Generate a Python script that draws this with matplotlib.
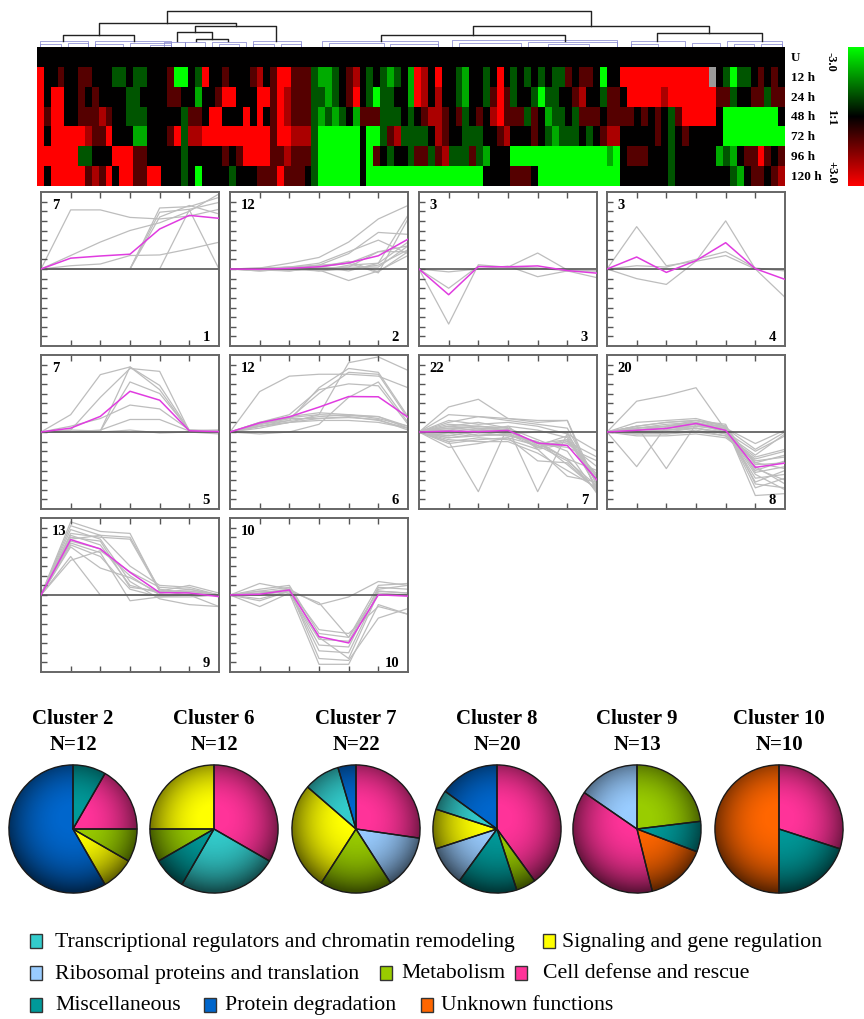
import numpy as np
import matplotlib
matplotlib.use("Agg")
import matplotlib.pyplot as plt
from matplotlib.colors import LinearSegmentedColormap
from matplotlib.patches import Circle, Rectangle

plt.rcParams['font.family'] = ['Liberation Serif', 'DejaVu Serif']

# ---------------- data ----------------
times = ["U", "12 h", "24 h", "48 h", "72 h", "96 h", "120 h"]

# heatmap, one string per time point after U (U is all 1:1)
# digit d -> log ratio d-3 (0 = -3.0 green, 3 = 1:1, 6 = +3.0 red), x = missing
heat_rows = [
    "6334334433" "3223223334" "0032633433" "3453466444" "2112345323"
    "2123165363" "3213323632" "3232322434" "4303366666" "66666666x3" "202234343",
    "6366334343" "3332233334" "4331334663" "3366465444" "2212346320"
    "2233165353" "3213324642" "3320223345" "3324436666" "6566666664" "423344244",
    "6466334445" "4332223333" "3244366333" "6363465444" "2121231444"
    "2223234554" "3423435644" "4243122324" "4434444343" "4324666663" "000000003",
    "6366666544" "6333113334" "6255666666" "6666466555" "2000000300"
    "2452222354" "3322233453" "3343212223" "2345533333" "4323433333" "000000000",
    "6666662233" "3666443333" "3233333434" "6666445444" "2000000304"
    "3233244245" "2224213330" "0000000000" "0001034443" "3323333331" "213446434",
    "6366666454" "6366446633" "3230333323" "3344464443" "2000000300"
    "0000000000" "0000033334" "4430000000" "0000033333" "3323333333" "321344345",
]

# dendrogram: (height, left, right); leaves are column positions
dendro_tree = (36, (24, (12, 3.3, 13.7), (21, (15, 19.9, (8, 22.7, 27.4)), 34.4)),
               (21, (12, 49.6, 76.5), (14, 89.8, 105.1)))
leaf_height = 6
# small blue sub-trees: (first col, last col, height)
blue_links = [(0, 7, 6), (0, 3, 3), (4, 7, 4), (8, 19, 6), (8, 12, 3), (13, 19, 4),
              (16, 19, 2), (18, 21, 5), (21, 24, 5), (25, 30, 5), (26, 29, 3),
              (31, 38, 6), (31, 34, 3), (35, 38, 3), (41, 58, 6), (42, 50, 4),
              (51, 58, 3), (60, 84, 7), (61, 70, 4), (71, 84, 5), (74, 80, 3),
              (86, 94, 6), (86, 90, 3), (95, 99, 4), (100, 108, 6), (101, 104, 3),
              (105, 108, 3)]

# expression profiles per cluster (log ratio vs U at 7 time points)
clu1 = [[0, 3.07, 3.07, 2.68, 2.60, 2.75, 3.10],
        [0, 0.70, 1.40, 2.00, 2.40, 3.00, 3.90],
        [0, 0.17, 0.26, 0.70, 0.73, 1.04, 1.39],
        [0, 0, 0, 0, 3.17, 3.24, 3.72],
        [0, 0, 0, 0, 0, 3.07, 0],
        [0, 0, 0, 0, 2.95, 3.10, 3.46],
        [0, 0, 0, 0, 2.70, 3.30, 2.86]]
clu2 = [[0, 0.05, 0.3, 0.6, 1.4, 2.6, 3.3],
        [0, 0, 0, 0.1, 0.3, -0.2, 2.6],
        [0, 0.05, 0.1, 0.2, 0.8, 1.9, 1.8],
        [0, -0.05, -0.1, 0.1, 0.4, -0.15, 0.9],
        [0, 0, 0.05, -0.05, -0.6, -0.1, 0.7],
        [0, 0, 0, -0.1, 0.2, 0.3, 2.8],
        [0, 0, -0.1, 0.05, 0.1, 0.9, 1.2],
        [0, -0.1, 0, 0.2, 0.3, 0.9, 0.9],
        [0, 0, 0.1, -0.1, 0, 0.2, 1.0],
        [0, -0.05, -0.05, 0, 0.1, 0.1, 1.2],
        [0, -0.1, 0, 0.1, -0.1, 0.3, 1.4],
        [0, 0, 0.1, 0.3, 0.9, 1.5, 0.8]]
clu3 = [[0, -2.86, 0.22, 0.09, 0.05, -0.1, -0.1],
        [0, -1.0, 0.15, 0.1, 0.83, -0.05, -0.1],
        [0, -0.15, 0, 0.15, -0.4, -0.1, -0.45]]
clu4 = [[0, 2.2, 0.17, 0.4, 2.5, 0, -1.47],
        [0, -0.5, -0.8, 0.4, 0.7, 0, -0.05],
        [0, 0.17, 0.1, 0.5, 0.9, 0.05, -0.1]]
clu5 = [[0, 0.9, 2.98, 3.38, 2.42, 0.09, 0.09],
        [0, 0.1, 1.8, 3.3, 3.15, 0.05, 0],
        [0, 0.1, 0.05, 3.38, 2.2, 0.05, 0],
        [0, 0, 0.05, 2.6, 2.0, 0.1, 0.05],
        [0, 0.3, 0.7, 1.4, 1.2, 0.1, 0],
        [0, 0, 0.1, 0.65, 0.65, 0.05, 0.1],
        [0, 0, 0, 0.1, -0.05, 0, -0.1]]
clu6 = [[0, 2.1, 2.9, 3.0, 3.0, 2.9, 2.3],
        [0, 0.4, 0.6, 2.3, 3.3, 3.1, 0.8],
        [0, 0.3, 0.5, 0.9, 3.6, 3.9, 3.2],
        [0, 0.4, 0.7, 2.0, 3.1, 3.0, 0.7],
        [0, 0.5, 0.8, 1.0, 0.9, 0.8, 0.2],
        [0, 0.3, 0.6, 0.8, 0.9, 0.7, 0.3],
        [0, 0.4, 0.7, 0.7, 0.8, 0.6, 0.2],
        [0, 0.2, 0.5, 0.7, 0.75, 0.65, 0.1],
        [0, 0.4, 0.75, 0.9, 0.85, 0.8, 0.3],
        [0, -0.1, 0, 0.4, 1.8, 2.6, 0.5],
        [0, 0.3, 0.5, 0.6, 0.6, 0.5, 0.2],
        [0, 0.5, 0.9, 2.2, 2.5, 2.4, 0.4]]
clu7 = [[0, 1.3, 1.7, 0.7, 0.5, 0.6, -3.2],
        [0, 0.9, 0.8, 0.7, 0.6, 0.6, -2.8],
        [0, 0.5, 0.8, 0.6, 0.4, 0.2, -2.6],
        [0, -0.5, -3.1, 0.3, 0.1, -0.3, -2.9],
        [0, 0.2, 0.3, 0.2, -3.1, -0.1, -2.4],
        [0, -0.8, -0.6, -0.3, -1.5, -1.6, -3.0],
        [0, -0.5, -0.3, -0.4, -0.9, -2.3, -2.6],
        [0, -0.3, -0.1, -0.2, -0.5, -1.7, -3.0],
        [0, 0.3, 0.2, 0.1, -0.6, -1.4, -2.0],
        [0, -0.2, 0.1, 0.0, -0.6, -0.8, -1.5],
        [0, 0.1, -0.2, -0.1, -0.8, -0.5, -1.3],
        [0, -0.4, -0.5, -0.5, -1.1, -2.0, -2.9],
        [0, 0.4, 0.3, 0.1, -0.8, -0.4, -2.3],
        [0, 0.6, 0.4, 0.5, 0.3, -0.1, -1.0],
        [0, -0.1, 0.1, -0.1, 0.0, 0.0, -3.0],
        [0, -0.6, -0.4, -0.3, -0.7, -1.5, -2.8],
        [0, 0.2, 0.1, 0.3, -0.9, -0.6, -1.8],
        [0, 0.1, 0.3, 0.2, -0.7, -0.2, -2.7],
        [0, -0.2, 0.0, -0.2, -0.5, -1.4, -3.1],
        [0, 0.0, 0.2, 0.1, -0.8, -0.5, -2.2],
        [0, 0.3, 0.5, 0.2, -0.4, -1.0, -3.2],
        [0, -0.3, -0.2, -0.1, -0.6, -0.4, -2.5]]
clu8 = [[0, 1.6, 1.9, 2.3, 0.1, -2.0, -1.5],
        [0, -1.8, 0.3, 0.5, 0.2, -1.6, -1.9],
        [0, 0.3, -1.9, 0.4, 0.1, -2.4, -2.2],
        [0, 0.5, 0.6, 0.7, 0.3, -3.3, -3.2],
        [0, 0.3, 0.5, 0.6, 0.2, -2.9, -2.4],
        [0, 0.2, 0.4, 0.5, 0.1, -2.6, -2.0],
        [0, 0.1, 0.3, 0.4, 0.0, -1.5, -1.3],
        [0, 0, 0.1, 0.2, -0.1, -1.2, -0.1],
        [0, -0.1, -0.1, 0.0, -0.2, -1.8, -2.7],
        [0, 0.2, 0.3, 0.4, 0.1, -2.2, -3.0],
        [0, 0.0, 0.1, 0.3, 0.2, -0.9, 0.0],
        [0, -0.2, -0.2, -0.1, -0.3, -1.4, -1.0],
        [0, 0.1, 0.2, 0.3, 0.1, -1.9, -2.5],
        [0, 0.0, 0.1, 0.2, 0.0, -1.0, -0.2],
        [0, 0.2, 0.3, 0.6, 0.3, -2.1, -1.8],
        [0, -0.1, 0.0, 0.2, -0.1, -1.6, -1.2],
        [0, 0.1, 0.2, 0.3, 0.2, -0.6, 0.1],
        [0, 0.3, 0.5, 0.6, 0.4, -2.7, -2.9],
        [0, 0.0, -0.1, 0.1, -0.2, -1.3, -0.9],
        [0, 0.1, 0.2, 0.4, 0.3, -1.7, -1.6]]
clu9 = [[0, 3.8, 3.3, 3.2, 0.2, 0.2, 0],
        [0, 3.6, 3.1, 3.0, 0.3, 0.1, 0],
        [0, 3.2, 3.0, 2.9, 0.2, 0.5, 0.1],
        [0, 2.9, 3.1, 1.5, 0.5, 0.4, 0.0],
        [0, 2.5, 1.4, 0.9, 0.1, 0.3, 0.0],
        [0, 2.0, 0.0, 0.0, 0.0, 0.0, -0.6],
        [0, 3.0, 2.8, 0.4, 0.2, 0.0, 0.0],
        [0, 2.7, 2.2, -0.3, -0.1, 0.0, 0.0],
        [0, 3.4, 2.9, 0.7, -0.2, -0.5, -0.6],
        [0, 2.8, 2.4, 1.0, 0.0, 0.0, 0.0],
        [0, 3.1, 2.6, 0.5, 0.1, 0.2, 0.0],
        [0, 2.6, 2.0, 0.3, -0.1, -0.1, 0.0],
        [0, 1.8, 2.3, 1.2, 0.4, 0.3, 0.0]]
clu10 = [[0, 0.6, 0.3, -0.5, -0.1, 0.7, 0.5],
         [0, 0.3, 0.5, -2.0, -2.2, 0.5, 0.6],
         [0, -0.3, 0.2, -2.6, -2.7, 0.4, 0.3],
         [0, -0.6, 0.1, -3.6, -3.6, -0.5, -1.0],
         [0, 0.1, 0.3, -3.3, -3.4, -1.2, -0.7],
         [0, -0.2, 0.2, -2.9, -3.0, 0.2, 0.1],
         [0, 0.2, 0.1, -2.3, -2.4, 0.3, 0.5],
         [0, 0.1, 0.3, -1.8, -2.0, -0.6, -1.0],
         [0, 0.0, 0.2, -0.4, -2.2, 0.2, 0.1],
         [0, 0.2, 0.4, -2.2, -3.3, 0.1, 0.0]]
profiles = [clu1, clu2, clu3, clu4, clu5, clu6, clu7, clu8, clu9, clu10]

categories = ["Transcriptional regulators and chromatin remodeling",
              "Signaling and gene regulation",
              "Ribosomal proteins and translation",
              "Metabolism",
              "Cell defense and rescue",
              "Miscellaneous",
              "Protein degradation",
              "Unknown functions"]
cat_colors = ["#33cccc", "#ffff00", "#99ccff", "#99cc00",
              "#ff3399", "#009999", "#0066cc", "#ff6600"]

# pies: wedge categories clockwise from 12 o'clock, and gene counts
pie_clusters = [2, 6, 7, 8, 9, 10]
pie_cats = [[5, 4, 3, 1, 6],
            [4, 0, 5, 3, 1],
            [4, 2, 3, 1, 0, 6],
            [4, 3, 5, 2, 1, 0, 6],
            [3, 5, 7, 4, 2],
            [4, 5, 7]]
pie_counts = [[1, 2, 1, 1, 7],
              [4, 3, 1, 1, 3],
              [6, 3, 4, 6, 2, 1],
              [8, 1, 3, 2, 2, 1, 3],
              [3, 1, 2, 5, 2],
              [3, 2, 5]]

# ---------------- figure ----------------
W, H = 864, 1020
fig = plt.figure(figsize=(W / 100, H / 100), dpi=100)


def px_axes(x, y, w, h):
    return fig.add_axes([x / W, 1 - (y + h) / H, w / W, h / H])


ncol = len(heat_rows[0])
mat = np.zeros((len(times), ncol))
for i, s in enumerate(heat_rows):
    mat[i + 1] = [np.nan if ch == 'x' else int(ch) - 3 for ch in s]

cmap = LinearSegmentedColormap.from_list("gkr", ["#00ff00", "#000000", "#ff0000"])
cmap.set_bad("#9a9a9a")

# heatmap
axh = px_axes(37, 48, 748, 139)
axh.imshow(np.ma.masked_invalid(mat), cmap=cmap, vmin=-3, vmax=3, aspect='auto',
           interpolation='nearest', extent=(-0.5, ncol - 0.5, len(times) - 0.5, -0.5))
axh.axis('off')
for i, t in enumerate(times):
    axh.text(1.008, i, t, transform=axh.get_yaxis_transform(), ha='left', va='center',
             fontsize=9.5, fontweight='bold')

# colour bar
axc = px_axes(848, 48, 16, 139)
axc.imshow(np.linspace(-3, 3, 256)[:, None], cmap=cmap, aspect='auto')
axc.axis('off')
for lab, yy in [("-3.0", 62), ("1:1", 117), ("+3.0", 172)]:
    fig.text(831 / W, 1 - yy / H, lab, rotation=-90, ha='center', va='center',
             fontsize=9, fontweight='bold')

# dendrogram
axd = px_axes(37, 6, 748, 42)
axd.set_xlim(-0.5, ncol - 0.5)
axd.set_ylim(0, 42)
axd.axis('off')
for c0, c1, hh in blue_links:
    axd.plot([c0, c0, c1, c1], [0, hh, hh, 0], color='#8080cc', lw=0.5)


def draw_node(node):
    if not isinstance(node, tuple):
        return node, leaf_height
    hh, left, right = node
    xl, hl = draw_node(left)
    xr, hr = draw_node(right)
    axd.plot([xl, xl, xr, xr], [hl, hh, hh, hr], color='#222222', lw=1.0)
    return (xl + xr) / 2, hh


draw_node(dendro_tree)

# cluster profile panels
panel_left = [41, 230, 419, 607]
panel_top = [193, 356, 519]
xs = np.arange(len(times))
for k, prof in enumerate(profiles):
    ax = px_axes(panel_left[k % 4], panel_top[k // 4], 178, 154)
    arr = np.array(prof)
    for row in arr:
        ax.plot(xs, row, color='#bdbdbd', lw=0.9, zorder=1)
    ax.axhline(0, color='#555555', lw=1.2, zorder=2)
    ax.plot(xs, arr.mean(axis=0), color='#e03ce0', lw=1.1, zorder=3)
    ax.set_xlim(0, 6)
    ax.set_ylim(-4, 4)
    ax.set_xticks([1, 2, 3, 4, 5])
    ax.set_yticks(np.arange(-3.5, 3.6, 0.5))
    ax.tick_params(direction='in', length=4, width=1, color='#555555', top=True,
                   bottom=True, left=True, right=False, labelbottom=False, labelleft=False)
    for sp in ax.spines.values():
        sp.set_color('#666666')
        sp.set_linewidth(1.4)
    ax.text(0.06, 0.92, str(len(prof)), transform=ax.transAxes, ha='left', va='center',
            fontsize=10.5, fontweight='bold')
    ax.text(0.95, 0.06, str(k + 1), transform=ax.transAxes, ha='right', va='center',
            fontsize=10.5, fontweight='bold')

# pies
pie_cx = [73, 214, 356, 497, 637, 779]
pie_cy, pie_r = 830, 64
yy, xx = np.mgrid[-1:1:240j, -1:1:240j]
rr = np.sqrt(xx ** 2 + yy ** 2)
shade = np.zeros((240, 240, 4))
shade[..., 3] = np.clip(0.55 * rr ** 2.5 - 0.12 * yy, 0, 0.62)
for j, cl in enumerate(pie_clusters):
    cx = pie_cx[j]
    ax = px_axes(cx - pie_r - 2, pie_cy - pie_r - 2, 2 * pie_r + 4, 2 * pie_r + 4)
    cols = [cat_colors[c] for c in pie_cats[j]]
    ax.pie(pie_counts[j], colors=cols, startangle=90, counterclock=False,
           wedgeprops=dict(linewidth=0, zorder=1))
    im = ax.imshow(shade, extent=(-1, 1, -1, 1), origin='lower', zorder=2)
    im.set_clip_path(Circle((0, 0), 1, transform=ax.transData))
    ax.pie(pie_counts[j], colors=['none'] * len(cols), startangle=90, counterclock=False,
           wedgeprops=dict(edgecolor='#1a1a1a', linewidth=1.0, zorder=3))
    ax.set_xlim(-1.03, 1.03)
    ax.set_ylim(-1.03, 1.03)
    ax.set_aspect('equal')
    ax.axis('off')
    fig.text(cx / W, 1 - 719 / H, f"Cluster {cl}", ha='center', va='center',
             fontsize=15, fontweight='bold')
    fig.text(cx / W, 1 - 745 / H, f"N={sum(pie_counts[j])}", ha='center', va='center',
             fontsize=15, fontweight='bold')

# legend: (category, square x, text x, row y)
legend_layout = [(0, 30, 55, 942), (1, 543, 562, 942),
                 (2, 30, 55, 974), (3, 380, 401, 974), (4, 515, 543, 974),
                 (5, 30, 55, 1006), (6, 204, 225, 1006), (7, 421, 441, 1006)]
for c, sx, tx, ry in legend_layout:
    fig.patches.append(Rectangle((sx / W, 1 - (ry + 7) / H), 12 / W, 14 / H,
                                 transform=fig.transFigure, facecolor=cat_colors[c],
                                 edgecolor='#333333', lw=1))
    fig.text(tx / W, 1 - ry / H, categories[c], ha='left', va='center', fontsize=15.7)

fig.savefig("out.png", dpi=100)
